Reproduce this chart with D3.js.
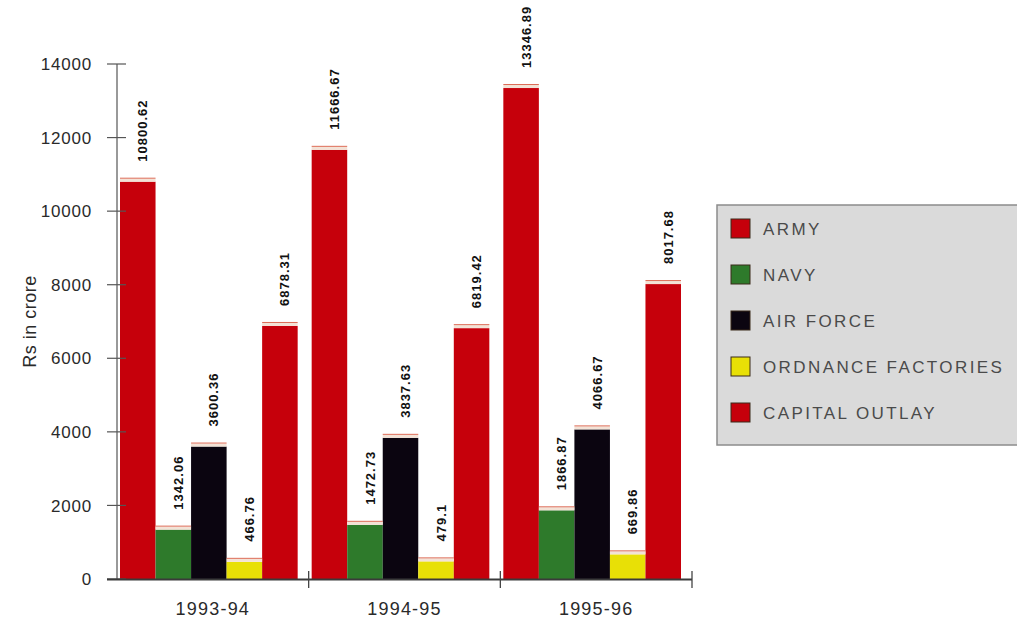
<!DOCTYPE html>
<html>
<head>
<meta charset="utf-8">
<script src="https://cdn.jsdelivr.net/npm/d3@7/dist/d3.min.js"></script>
<style>
  html, body { margin: 0; padding: 0; background: #fff; }
  svg { display: block; font-family: "Liberation Sans", Arial, sans-serif; }
</style>
</head>
<body>
<svg id="chart" width="1017" height="621"></svg>
<script>
// Defence expenditure by service, Rs in crore
const years = ["1993-94", "1994-95", "1995-96"];
const services = ["ARMY", "NAVY", "AIR FORCE", "ORDNANCE FACTORIES", "CAPITAL OUTLAY"];
const army = [10800.62, 11666.67, 13346.89];
const navy = [1342.06, 1472.73, 1866.87];
const airForce = [3600.36, 3837.63, 4066.67];
const ordnance = [466.76, 479.1, 669.86];
const capitalOutlay = [6878.31, 6819.42, 8017.68];
const yTicks = [0, 2000, 4000, 6000, 8000, 10000, 12000, 14000];
const colors = ["#c6000b", "#2e7a2b", "#0b0510", "#e8e006", "#c6000b"];

const seriesValues = [army, navy, airForce, ordnance, capitalOutlay];
const rows = [];
years.forEach((yr, i) => {
  services.forEach((s, j) => {
    rows.push({ year: yr, service: s, idx: j, value: seriesValues[j][i] });
  });
});

const svg = d3.select("#chart");
const plotLeft = 117, plotRight = 692, plotTop = 64, plotBottom = 579;

const x0 = d3.scaleBand().domain(years).range([plotLeft, plotRight]).padding(0);
const x1 = d3.scaleBand().domain(services).range([3, x0.bandwidth() - 11]).padding(0);
const y = d3.scaleLinear().domain([0, 14000]).range([plotBottom, plotTop]);

const barX = d => x0(d.year) + x1(d.service);

// bars
const g = svg.append("g");
g.selectAll("rect.bar").data(rows).join("rect")
  .attr("class", "bar")
  .attr("x", barX)
  .attr("y", d => y(d.value))
  .attr("width", x1.bandwidth())
  .attr("height", d => y(0) - y(d.value))
  .attr("fill", d => colors[d.idx]);

// pale top face with a thin red rim on each bar
g.selectAll("rect.cap").data(rows).join("rect")
  .attr("class", "cap")
  .attr("x", barX)
  .attr("y", d => y(d.value) - 3)
  .attr("width", x1.bandwidth())
  .attr("height", 3)
  .attr("fill", "#f3e2d6");
g.selectAll("line.capline").data(rows).join("line")
  .attr("class", "capline")
  .attr("x1", barX)
  .attr("x2", d => barX(d) + x1.bandwidth())
  .attr("y1", d => y(d.value) - 3.5)
  .attr("y2", d => y(d.value) - 3.5)
  .attr("stroke", "#dc6a55")
  .attr("stroke-width", 1);

// value labels
g.selectAll("text.val").data(rows).join("text")
  .attr("class", "val")
  .attr("transform", d => {
    const cx = barX(d) + x1.bandwidth() / 2 + 5;
    return `translate(${cx},${y(d.value) - 20}) rotate(-90)`;
  })
  .attr("text-anchor", "start")
  .attr("dy", "0.35em")
  .attr("font-size", 13)
  .attr("font-weight", "bold")
  .attr("letter-spacing", 1)
  .attr("fill", "#111")
  .text(d => d.value);

// y axis
const yAxis = svg.append("g");
yAxis.append("line")
  .attr("x1", plotLeft).attr("x2", plotLeft)
  .attr("y1", y(14000)).attr("y2", y(0))
  .attr("stroke", "#555").attr("stroke-width", 1.2);
yAxis.selectAll("line.tick").data(yTicks).join("line")
  .attr("class", "tick")
  .attr("x1", plotLeft - 10).attr("x2", plotLeft + 9)
  .attr("y1", d => y(d)).attr("y2", d => y(d))
  .attr("stroke", "#555").attr("stroke-width", 1.2);
yAxis.selectAll("text").data(yTicks).join("text")
  .attr("x", plotLeft - 25)
  .attr("y", d => y(d))
  .attr("dy", "0.36em")
  .attr("text-anchor", "end")
  .attr("font-size", 17)
  .attr("letter-spacing", 0.8)
  .attr("fill", "#2a2a2a")
  .text(d => d);

svg.append("text")
  .attr("transform", `translate(36,${(plotTop + plotBottom) / 2}) rotate(-90)`)
  .attr("text-anchor", "middle")
  .attr("font-size", 18)
  .attr("letter-spacing", 0.5)
  .attr("fill", "#2a2a2a")
  .text("Rs in crore");

// x axis
const xAxis = svg.append("g");
xAxis.append("line")
  .attr("x1", plotLeft - 10).attr("x2", plotRight)
  .attr("y1", plotBottom + 0.5).attr("y2", plotBottom + 0.5)
  .attr("stroke", "#3a3a3a").attr("stroke-width", 2);
xAxis.selectAll("line.tick").data(years).join("line")
  .attr("class", "tick")
  .attr("x1", d => x0(d) + x0.bandwidth()).attr("x2", d => x0(d) + x0.bandwidth())
  .attr("y1", plotBottom - 8).attr("y2", plotBottom + 9)
  .attr("stroke", "#444").attr("stroke-width", 1.3);
xAxis.selectAll("text").data(years).join("text")
  .attr("x", d => x0(d) + x0.bandwidth() / 2)
  .attr("y", 615)
  .attr("text-anchor", "middle")
  .attr("font-size", 18)
  .attr("letter-spacing", 1.2)
  .attr("fill", "#2a2a2a")
  .text(d => d);

// legend
const legend = svg.append("g").attr("transform", "translate(717,205)");
legend.append("rect")
  .attr("x", 0).attr("y", 0).attr("width", 320).attr("height", 240)
  .attr("fill", "#dadada").attr("stroke", "#8c8c8c").attr("stroke-width", 1.5);
const items = legend.selectAll("g.item").data(services).join("g")
  .attr("class", "item")
  .attr("transform", (d, i) => `translate(0,${24 + i * 46})`);
items.append("rect")
  .attr("x", 14).attr("y", -10).attr("width", 19).attr("height", 19)
  .attr("fill", (d, i) => colors[i])
  .attr("stroke", "#3a2a1a").attr("stroke-width", 1);
items.append("text")
  .attr("x", 46).attr("y", 0).attr("dy", "0.36em")
  .attr("font-size", 17)
  .attr("letter-spacing", 2.4)
  .attr("fill", "#4a4a4a")
  .text(d => d);
</script>
</body>
</html>
